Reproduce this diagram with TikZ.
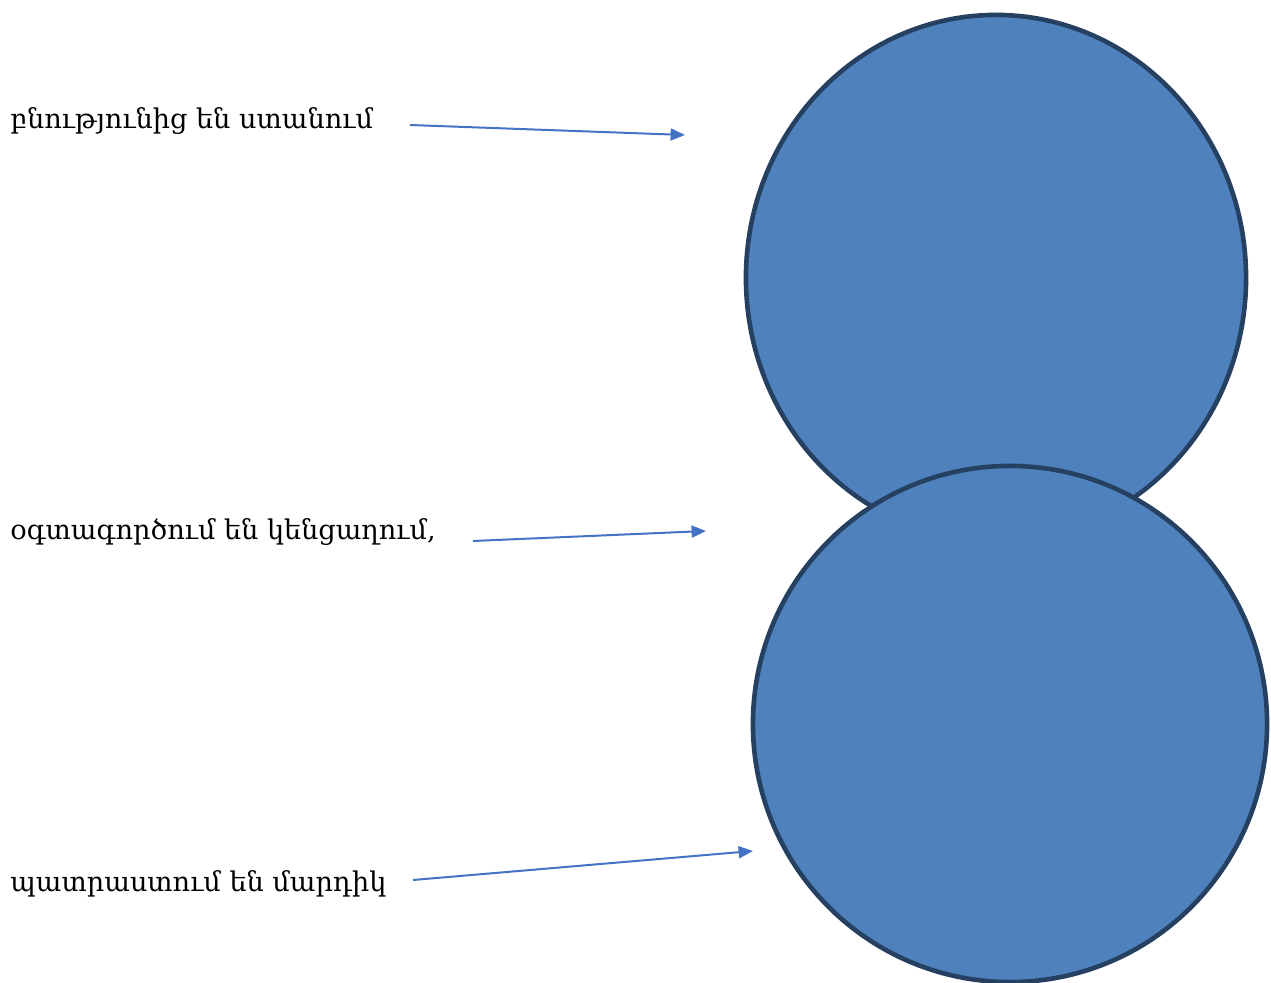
\documentclass[tikz,border=0pt]{standalone}
\usepackage{fontspec}
\setmainfont{DejaVu Serif}
\usepackage{tikz}
\usetikzlibrary{positioning, shapes, arrows.meta}
\definecolor{CircleBlue}{RGB}{79, 129, 189}
\definecolor{EdgeNavy}{RGB}{37, 64, 97}
\definecolor{ArrowBlue}{RGB}{68, 114, 196}

\begin{document}
\begin{tikzpicture}[x=0.025cm, y=-0.025cm,
      label/.style={anchor=west, inner sep=0pt, font=\fontsize{19.3}{23}\selectfont},
      blob/.style={ellipse, draw=EdgeNavy, fill=CircleBlue, line width=1.15mm, inner sep=0pt},
      pointer/.style={-{Triangle[length=3.6mm, width=3mm]}, draw=ArrowBlue, line width=0.5mm}
    ]
      \useasboundingbox (0,0) rectangle (1271,983);

      \node[blob, minimum width=12.5cm, minimum height=13.15cm] (upper) at (996,278) {};
      \node[blob, minimum width=12.85cm, minimum height=12.9cm] (lower) at (1010,724) {};

      \node[label] (t1) at (10,121) {բնությունից են ստանում};
      \node[label] (t2) at (10,532) {օգտագործում են կենցաղում,};
      \node[label] (t3) at (10,884) {պատրաստում են մարդիկ};

      \coordinate (s1) at (410,125);
      \coordinate (e1) at (685,135);
      \coordinate (s2) at (473,541);
      \coordinate (e2) at (706,531);
      \coordinate (s3) at (413,880);
      \coordinate (e3) at (753,851);

      \draw[pointer] (s1) -- (e1);
      \draw[pointer] (s2) -- (e2);
      \draw[pointer] (s3) -- (e3);
    \end{tikzpicture}
\end{document}
